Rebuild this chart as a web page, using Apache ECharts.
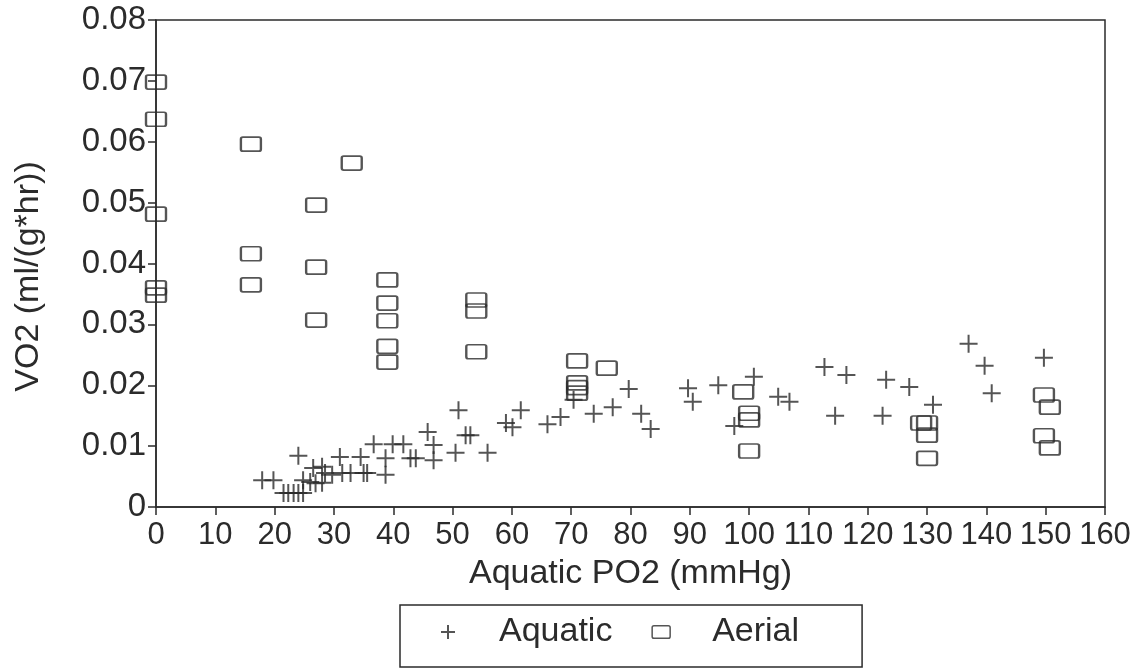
<!DOCTYPE html>
<html>
<head>
<meta charset="utf-8">
<script src="https://cdn.jsdelivr.net/npm/echarts@6/dist/echarts.min.js"></script>
<style>
  html, body { margin: 0; padding: 0; background: #fff; }
  #chartin { width: 1136px; height: 670px; }
</style>
</head>
<body>
<div id="chartin"></div>
<script>
// aquatic breathing: PO2 (mmHg) and VO2 (ml/(g*hr))
const aquaticPO2 = [17.9, 19.8, 24, 21.5, 22.3, 23.2, 24, 24.8, 24.8, 26, 26.9, 28, 26.5, 28, 28.5, 29.7,
    31, 31.4, 32.8, 34.5, 35, 35.6, 36.7, 38.7, 38.7, 39.9, 41.7, 42.9, 43.8, 45.8, 46.8, 46.8,
    50.5, 51, 52.2, 53, 55.9, 59, 60.1, 61.5, 66, 68.2, 70.4, 73.8, 77, 79.7, 81.8, 83.4,
    89.7, 90.5, 94.8, 97.5, 100.8, 104.9, 106.8, 112.7, 116.4, 114.5, 123.1, 122.5, 127, 131,
    137, 139.7, 140.9, 149.7];
const aquaticVO2 = [0.0044, 0.0044, 0.0084, 0.0023, 0.0023, 0.0023, 0.0023, 0.0023, 0.0044, 0.0041, 0.0039, 0.004, 0.0064, 0.0066, 0.0056, 0.0053,
    0.0082, 0.0056, 0.0056, 0.0082, 0.0056, 0.0056, 0.0103, 0.008, 0.0053, 0.0103, 0.0103, 0.008, 0.008, 0.0123, 0.0102, 0.0077,
    0.0089, 0.0159, 0.0118, 0.0118, 0.0089, 0.0138, 0.0131, 0.0159, 0.0136, 0.0148, 0.0176, 0.0153, 0.0164, 0.0194, 0.0153, 0.0128,
    0.0195, 0.0173, 0.02, 0.0133, 0.0214, 0.0181, 0.0173, 0.023, 0.0217, 0.015, 0.0209, 0.015, 0.0197, 0.0168,
    0.0268, 0.0232, 0.0187, 0.0245];

// aerial breathing
const aerialPO2 = [0, 0, 0, 0, 0, 16, 16, 16, 27, 27, 27, 33, 39, 39, 39, 39, 39,
    54, 54, 54, 71, 71, 71, 71, 76, 99, 100, 100, 100, 129, 130, 130, 130, 149.7, 150.7, 149.7, 150.7];
const aerialVO2 = [0.0698, 0.0637, 0.0481, 0.036, 0.0348, 0.0596, 0.0416, 0.0365, 0.0496, 0.0394, 0.0307, 0.0565, 0.0373, 0.0335, 0.0306, 0.0264, 0.0238,
    0.034, 0.0322, 0.0255, 0.024, 0.0204, 0.0196, 0.0187, 0.0228, 0.0189, 0.0154, 0.0143, 0.0092, 0.0138, 0.0138, 0.0118, 0.008, 0.0184, 0.0164, 0.0117, 0.0097];

const xTicks = { min: 0, max: 160, interval: 10 };
const yTicks = { min: 0, max: 0.08, interval: 0.01 };

const ink = '#2b2b2b';
const font = '"Liberation Sans", Arial, sans-serif';
const plusPath = 'path://M0,5 L10,5 M5,0 L5,10';
const boxPath = 'path://M2,0 H18 Q20,0 20,2 V12 Q20,14 18,14 H2 Q0,14 0,12 V2 Q0,0 2,0 Z';

function pairs(xs, ys){
    return xs.map((x, i) => [x, ys[i]]);
}

let myChart = echarts.init(document.getElementById('chartin'));

let option = {
    backgroundColor: '#fff',
    animation: false,
    grid: {
        left: 156,
        top: 20,
        right: 31,
        bottom: 163,
        show: true,
        borderColor: ink,
        borderWidth: 1.5
    },
    xAxis: {
        type: 'value',
        min: xTicks.min,
        max: xTicks.max,
        interval: xTicks.interval,
        name: 'Aquatic PO2 (mmHg)',
        nameLocation: 'middle',
        nameGap: 50,
        nameTextStyle: { color: ink, fontSize: 34, fontFamily: font },
        axisLine: { lineStyle: { color: ink, width: 1.5 } },
        axisTick: { length: 8, lineStyle: { color: ink, width: 1.5 } },
        axisLabel: { color: ink, fontSize: 31, fontFamily: font, margin: 13 },
        splitLine: { show: false }
    },
    yAxis: {
        type: 'value',
        min: yTicks.min,
        max: yTicks.max,
        interval: yTicks.interval,
        name: 'VO2 (ml/(g*hr))',
        nameLocation: 'middle',
        nameGap: 110,
        nameTextStyle: { color: ink, fontSize: 34, fontFamily: font, padding: [0, 26, 0, 0] },
        axisLine: { lineStyle: { color: ink, width: 1.5 } },
        axisTick: { length: 8, lineStyle: { color: ink, width: 1.5 } },
        axisLabel: {
            color: ink, fontSize: 33, fontFamily: font, margin: 10,
            formatter: v => v === 0 ? '0' : v.toFixed(2)
        },
        splitLine: { show: false }
    },
    legend: {
        left: 400,
        top: 605,
        padding: [10, 63, 18, 40],
        borderColor: ink,
        borderWidth: 1.5,
        itemGap: 39,
        itemWidth: 18,
        itemHeight: 14,
        textStyle: { color: ink, fontSize: 34, fontFamily: font, padding: [0, 0, 0, 37] },
        data: [
            { name: 'Aquatic', icon: plusPath, itemStyle: { color: 'transparent', borderColor: ink, borderWidth: 2 } },
            { name: 'Aerial', icon: boxPath, itemStyle: { color: 'transparent', borderColor: ink, borderWidth: 1.5 } }
        ]
    },
    series: [
        {
            name: 'Aquatic',
            type: 'scatter',
            symbol: plusPath,
            symbolSize: 18,
            itemStyle: { color: 'transparent', borderColor: ink, borderWidth: 2 },
            data: pairs(aquaticPO2, aquaticVO2)
        },
        {
            name: 'Aerial',
            type: 'scatter',
            symbol: boxPath,
            symbolSize: [20, 14],
            itemStyle: { color: 'transparent', borderColor: ink, borderWidth: 2 },
            data: pairs(aerialPO2, aerialVO2)
        }
    ]
};

myChart.setOption(option);
</script>
</body>
</html>
